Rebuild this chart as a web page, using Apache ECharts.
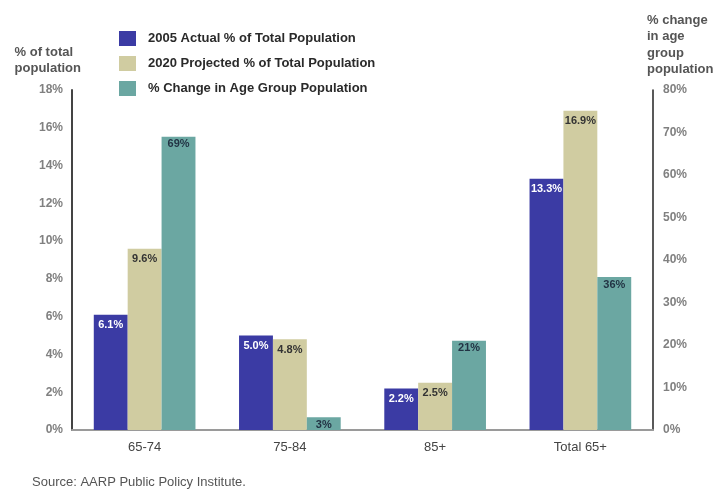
<!DOCTYPE html>
<html>
<head>
<meta charset="utf-8">
<script src="https://cdn.jsdelivr.net/npm/echarts@6/dist/echarts.min.js"></script>
<style>html,body{margin:0;padding:0;background:#fff}#c{width:718px;height:495px}</style>
</head>
<body>
<div id="c"></div>
<script>
const categories = ['65-74', '75-84', '85+', 'Total 65+'];
const actual2005 = [6.1, 5.0, 2.2, 13.3];
const projected2020 = [9.6, 4.8, 2.5, 16.9];
const changePct = [69, 3, 21, 36];
const seriesNames = ['2005 Actual % of Total Population', '2020 Projected % of Total Population', '% Change in Age Group Population'];
const leftAxisName = '% of total\npopulation';
const rightAxisName = '% change\nin age\ngroup\npopulation';
const sourceText = 'Source: AARP Public Policy Institute.';

const chart = echarts.init(document.getElementById('c'));
const font = 'Liberation Sans, Arial, sans-serif';
const lblBase = { show: true, position: 'insideTop', distance: 5, fontSize: 11, fontWeight: 'bold', fontFamily: font };
chart.setOption({
  animation: false,
  textStyle: { fontFamily: font },
  grid: { left: 72, right: 65, top: 90, bottom: 65, containLabel: false },
  legend: {
    orient: 'vertical', left: 119, top: 31, padding: 0, itemWidth: 17, itemHeight: 15, itemGap: 10,
    icon: 'rect',
    textStyle: { fontSize: 13, fontWeight: 'bold', color: '#2a2a2a', padding: [0, 0, 0, 7] },
    data: seriesNames
  },
  xAxis: {
    type: 'category', data: categories,
    axisLine: { lineStyle: { color: '#9a9a9a', width: 2 } },
    axisTick: { show: false },
    axisLabel: { fontSize: 13, color: '#444', margin: 11 }
  },
  yAxis: [
    { type: 'value', min: 0, max: 18, interval: 2, position: 'left',
      axisLine: { show: true, lineStyle: { color: '#444', width: 2 } },
      axisTick: { show: false }, splitLine: { show: false },
      axisLabel: { formatter: '{value}%', fontSize: 12, fontWeight: 'bold', color: '#808080', margin: 9 } },
    { type: 'value', min: 0, max: 80, interval: 10, position: 'right',
      axisLine: { show: true, lineStyle: { color: '#222', width: 1.5 } },
      axisTick: { show: false }, splitLine: { show: false },
      axisLabel: { formatter: '{value}%', fontSize: 12, fontWeight: 'bold', color: '#808080', margin: 10 } }
  ],
  graphic: [
    { type: 'text', right: 718 - 81, top: 44, style: { text: leftAxisName, font: 'bold 13px ' + font, fill: '#555', align: 'right', lineHeight: 16 } },
    { type: 'text', left: 647, top: 12, style: { text: rightAxisName, font: 'bold 13px ' + font, fill: '#555', lineHeight: 16.5 } },
    { type: 'text', left: 32, top: 476, style: { text: sourceText, font: '13px ' + font, fill: '#555' } }
  ],
  series: [
    { name: seriesNames[0], type: 'bar', yAxisIndex: 0, data: actual2005, barGap: '0%', barCategoryGap: '30%',
      itemStyle: { color: '#3b3ba4' },
      label: Object.assign({}, lblBase, { color: '#fff', formatter: p => p.value.toFixed(1) + '%' }) },
    { name: seriesNames[1], type: 'bar', yAxisIndex: 0, data: projected2020, barGap: '0%', barCategoryGap: '30%',
      itemStyle: { color: '#d0cca1' },
      label: Object.assign({}, lblBase, { color: '#333', formatter: p => p.value.toFixed(1) + '%' }) },
    { name: seriesNames[2], type: 'bar', yAxisIndex: 1, data: changePct, barGap: '0%', barCategoryGap: '30%',
      itemStyle: { color: '#6ba7a2' },
      label: Object.assign({}, lblBase, { color: '#234', distance: 2, formatter: p => p.value + '%' }) }
  ]
});
</script>
</body>
</html>
